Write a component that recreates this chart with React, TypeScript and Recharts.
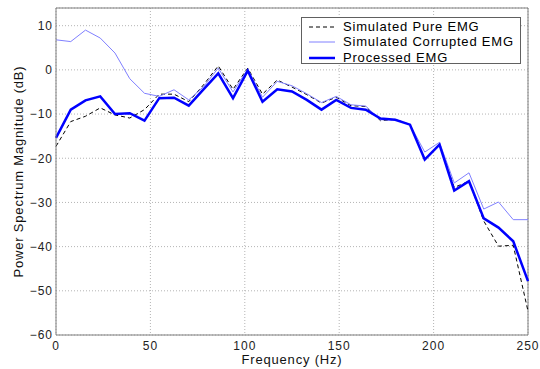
import React from "react";
import { CartesianGrid, Legend, Line, LineChart, ReferenceLine, XAxis, YAxis } from "recharts";

const frequencies = [
  0, 7.8125, 15.625, 23.4375, 31.25, 39.0625, 46.875, 54.6875, 62.5, 70.3125, 78.125,
  85.9375, 93.75, 101.5625, 109.375, 117.1875, 125, 132.8125, 140.625, 148.4375, 156.25,
  164.0625, 171.875, 179.6875, 187.5, 195.3125, 203.125, 210.9375, 218.75, 226.5625,
  234.375, 242.1875, 250
];

const pureEmg = [
  -17.3, -11.7, -10.5, -8.6, -10.2, -10.9, -9.0, -5.5, -5.5, -7.2, -3.4, 0.9, -4.4, 0.4,
  -5.5, -2.3, -3.9, -5.6, -7.5, -6.2, -8.1, -8.3, -11.5, -11.2, -12.4, -20.2, -17.0,
  -26.6, -25.2, -34.2, -39.9, -39.7, -54.6
];

const corruptedEmg = [
  6.8, 6.4, 9.0, 7.2, 3.8, -2.0, -5.3, -6.0, -4.5, -6.8, -3.8, 0.4, -5.0, 0.2, -6.2, -2.6,
  -3.6, -5.4, -7.4, -6.0, -7.9, -8.2, -11.3, -11.3, -12.4, -18.6, -16.4, -25.6, -23.3,
  -31.5, -29.9, -33.9, -33.9
];

const processedEmg = [
  -15.4, -9.0, -6.9, -6.0, -10.0, -9.8, -11.5, -6.4, -6.3, -8.1, -4.4, -0.8, -6.4, -0.2,
  -7.2, -4.4, -4.9, -6.8, -9.0, -6.8, -8.6, -9.0, -11.0, -11.3, -12.4, -20.3, -16.9,
  -27.3, -25.2, -33.6, -35.7, -38.8, -47.8
];

const xTicks = [0, 50, 100, 150, 200, 250];
const yTicks = [-60, -50, -40, -30, -20, -10, 0, 10];

const FONT = '"Liberation Sans", Arial, Helvetica, sans-serif';
const AXIS_GRAY = "#7f7f7f";

const chartData = frequencies.map((f, i) => ({
  freq: f,
  pure: pureEmg[i],
  corrupted: corruptedEmg[i],
  processed: processedEmg[i]
}));

const legendItems = [
  { name: "Simulated Pure EMG", stroke: "#000000", width: 1, dash: "4 3" },
  { name: "Simulated Corrupted EMG", stroke: "#8080ff", width: 1, dash: undefined },
  { name: "Processed EMG", stroke: "#0000ff", width: 2.5, dash: undefined }
];

function formatTick(value: number) {
  return String(value).replace("-", "\u2212");
}

function renderLegend() {
  return (
    <div
      style={{
        width: 220,
        height: 47,
        border: "1px solid #606060",
        background: "#fff",
        boxSizing: "border-box",
        position: "relative",
        fontFamily: FONT,
        fontSize: 13,
        letterSpacing: 0.8,
        color: "#000"
      }}
    >
      {legendItems.map((item, i) => (
        <div key={item.name} style={{ position: "absolute", left: 0, top: 1 + i * 15.4, height: 16, display: "flex", alignItems: "center" }}>
          <svg width={41} height={16} style={{ display: "block" }}>
            <line x1={7} x2={33} y1={8} y2={8} stroke={item.stroke} strokeWidth={item.width} strokeDasharray={item.dash} />
          </svg>
          <span style={{ whiteSpace: "nowrap", lineHeight: "16px" }}>{item.name}</span>
        </div>
      ))}
    </div>
  );
}

export default function App() {
  return (
    <div style={{ width: 540, height: 369, background: "#fff" }}>
      <style>{"body{margin:0}"}</style>
      <LineChart width={540} height={369} data={chartData} margin={{ top: 8, right: 12, left: 0, bottom: 0 }}>
        <CartesianGrid stroke="#b4b4b4" strokeDasharray="1 2" />
        <XAxis
          dataKey="freq"
          type="number"
          domain={[0, 250]}
          ticks={xTicks}
          height={34}
          tickLine={false}
          tickSize={0}
          tickMargin={6}
          stroke={AXIS_GRAY}
          tick={{ fill: "#222", fontSize: 12, fontFamily: FONT, letterSpacing: 1 }}
          label={(props: any) => {
            const vb = props.viewBox || { x: 56, width: 472, y: 335 };
            return (
              <text x={vb.x + vb.width / 2} y={363.5} textAnchor="middle" fontSize={13} fontFamily={FONT} letterSpacing={0.8} fill="#111">
                Frequency (Hz)
              </text>
            );
          }}
        />
        <YAxis
          type="number"
          domain={[-60, 14]}
          ticks={yTicks}
          width={56}
          tickLine={false}
          tickSize={0}
          tickMargin={3}
          stroke={AXIS_GRAY}
          allowDataOverflow
          tickFormatter={formatTick}
          tick={{ fill: "#222", fontSize: 12, fontFamily: FONT, letterSpacing: 1 }}
          label={(props: any) => {
            const vb = props.viewBox || { y: 8, height: 327 };
            const cy = vb.y + vb.height / 2;
            return (
              <text x={22.5} y={cy} transform={`rotate(-90, 22.5, ${cy})`} textAnchor="middle" fontSize={13} fontFamily={FONT} letterSpacing={0.8} fill="#111">
                Power Spectrum Magnitude (dB)
              </text>
            );
          }}
        />
        <ReferenceLine y={14} stroke={AXIS_GRAY} />
        <ReferenceLine x={250} stroke={AXIS_GRAY} />
        <Legend
          layout="horizontal"
          verticalAlign="middle"
          align="center"
          content={renderLegend}
          wrapperStyle={{ top: 17, left: 301, width: 220, height: 47 }}
        />
        <Line type="linear" dataKey="pure" name="Simulated Pure EMG" stroke="#000000" strokeWidth={1} strokeDasharray="4 3" dot={false} isAnimationActive={false} />
        <Line type="linear" dataKey="corrupted" name="Simulated Corrupted EMG" stroke="#8080ff" strokeWidth={1} dot={false} isAnimationActive={false} />
        <Line type="linear" dataKey="processed" name="Processed EMG" stroke="#0000ff" strokeWidth={2.5} dot={false} isAnimationActive={false} />
      </LineChart>
    </div>
  );
}
